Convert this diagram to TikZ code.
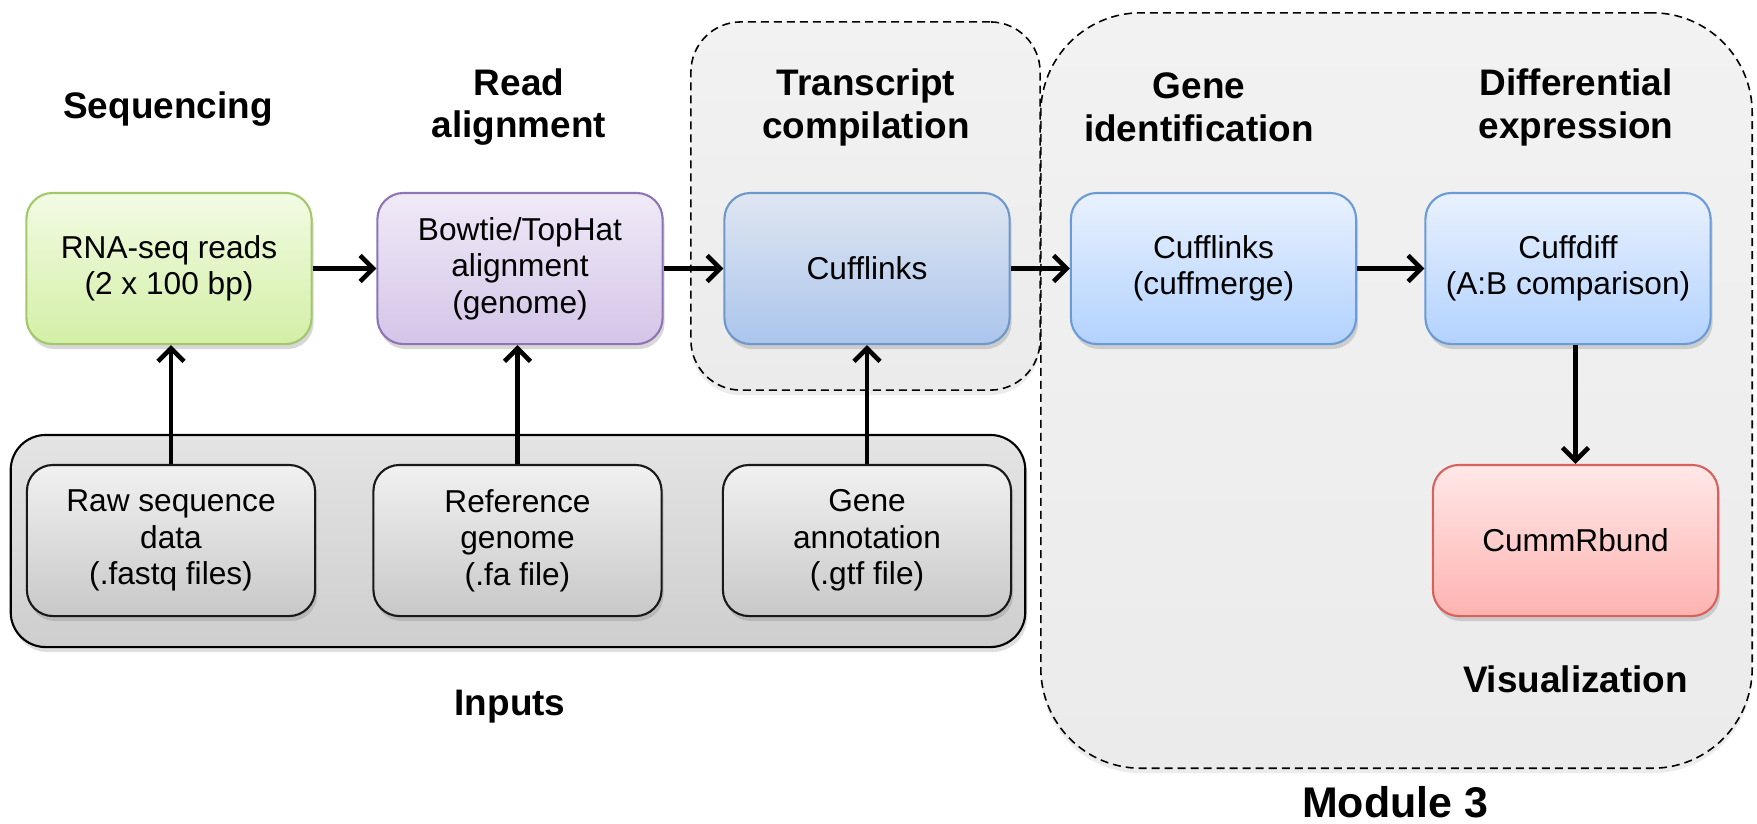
\documentclass[tikz,border=0pt]{standalone}
\usepackage{fontspec}
\setmainfont{Liberation Sans}
\usetikzlibrary{arrows.meta,shadows}
\definecolor{grnT}{HTML}{F2FBE4}
\definecolor{grnB}{HTML}{D3EFA6}
\definecolor{grnD}{HTML}{A3C86A}
\definecolor{purT}{HTML}{F0EAF7}
\definecolor{purB}{HTML}{D4C5E8}
\definecolor{purD}{HTML}{8E76B4}
\definecolor{bl1T}{HTML}{DFE6F2}
\definecolor{bl1B}{HTML}{ABC5EC}
\definecolor{bl1D}{HTML}{6E98C9}
\definecolor{bl2T}{HTML}{E9F1FE}
\definecolor{bl2B}{HTML}{B2D2FE}
\definecolor{bl2D}{HTML}{6B9BD6}
\definecolor{redT}{HTML}{FFE8E8}
\definecolor{redB}{HTML}{FDB3B0}
\definecolor{redD}{HTML}{D9605C}
\definecolor{gryT}{HTML}{F1F1F1}
\definecolor{gryB}{HTML}{C8C8C8}
\definecolor{bgT}{HTML}{F2F2F2}
\definecolor{bgB}{HTML}{EBEBEB}
\definecolor{inT}{HTML}{E4E4E4}
\definecolor{inB}{HTML}{CECECE}
\tikzset{
  procbox/.style={rounded corners=0.26cm, minimum width=2.85cm, minimum height=1.51cm,
    align=center, font=\fontsize{9}{10.4}\selectfont, line width=0.6pt, inner sep=0pt,
    drop shadow={shadow xshift=0.02cm, shadow yshift=-0.05cm, opacity=0.3}},
  grnbox/.style={procbox, draw=grnD, top color=grnT, bottom color=grnB},
  purbox/.style={procbox, draw=purD, top color=purT, bottom color=purB},
  bl1box/.style={procbox, draw=bl1D, top color=bl1T, bottom color=bl1B},
  bl2box/.style={procbox, draw=bl2D, top color=bl2T, bottom color=bl2B},
  redbox/.style={procbox, draw=redD, top color=redT, bottom color=redB},
  grybox/.style={procbox, draw=black!90, top color=gryT, bottom color=gryB, minimum width=2.88cm},
  dashbox/.style={draw=black, dash pattern=on 0.8mm off 0.5mm, line width=0.45pt,
    top color=bgT, bottom color=bgB, inner sep=0pt,
    drop shadow={shadow xshift=0.0cm, shadow yshift=-0.05cm, opacity=0.15}},
  ttl/.style={font=\fontsize{10.5}{12.2}\selectfont\bfseries, align=center},
  arr/.style={line width=1.3pt, -{Straight Barb[length=1.3mm, width=2.6mm]}},
}
\begin{document}
\begin{tikzpicture}[x=0.01cm, y=-0.01cm]
\useasboundingbox[fill=white] (0,0) rectangle (1757,823);
% background groups
\node[dashbox, rounded corners=1.0cm, minimum width=7.11cm, minimum height=7.55cm] (modbg) at (1396.5,390.5) {};
\node[dashbox, rounded corners=0.5cm, minimum width=3.49cm, minimum height=3.68cm] (trbg) at (865.5,206) {};
\node[draw=black, line width=0.6pt, rounded corners=0.35cm, top color=inT, bottom color=inB,
  minimum width=10.14cm, minimum height=2.12cm, inner sep=0pt,
  drop shadow={shadow xshift=0.02cm, shadow yshift=-0.05cm, opacity=0.25}] (inbg) at (518,541) {};
% titles
\node[ttl] (tseq) at (168,109) {Sequencing};
\node[ttl] (tread) at (519,107) {Read\\alignment};
\node[ttl] (ttrans) at (866,107) {Transcript\\compilation};
\node[ttl] (tgene) at (1199,107) {Gene\\identification};
\node[ttl] (tdiff) at (1576,107) {Differential\\expression};
\node[ttl] (tin) at (510,707) {Inputs};
\node[ttl] (tvis) at (1575.5,679) {Visualization};
\node[font=\fontsize{12.2}{14}\selectfont\bfseries] (tmod) at (1395,802) {Module 3};
% process boxes
\node[grnbox] (rna) at (169,268.5) {RNA-seq reads\\(2 x 100 bp)};
\node[purbox] (bow) at (520,268.5) {Bowtie/TopHat\\alignment\\(genome)};
\node[bl1box] (cl) at (867,268.5) {Cufflinks};
\node[bl2box] (cm) at (1213.5,268.5) {Cufflinks\\(cuffmerge)};
\node[bl2box] (cd) at (1568,268.5) {Cuffdiff\\(A:B comparison)};
\node[redbox] (cr) at (1575.5,540.5) {CummRbund};
% inputs
\node[grybox] (raw) at (171,540.5) {Raw sequence\\data\\(.fastq files)};
\node[grybox] (ref) at (517.5,540.5) {Reference\\genome\\(.fa file)};
\node[grybox] (gtf) at (867,540.5) {Gene\\annotation\\(.gtf file)};
% connectors
\draw[arr] (rna.east) -- (bow.west);
\draw[arr] (bow.east) -- (cl.west);
\draw[arr] (cl.east) -- (cm.west);
\draw[arr] (cm.east) -- (cd.west);
\draw[arr] (cr.north |- cd.south) -- (cr.north);
\draw[arr] (raw.north) -- (raw.north |- rna.south);
\draw[arr] (ref.north) -- (ref.north |- bow.south);
\draw[arr] (gtf.north) -- (gtf.north |- cl.south);
\end{tikzpicture}
\end{document}
